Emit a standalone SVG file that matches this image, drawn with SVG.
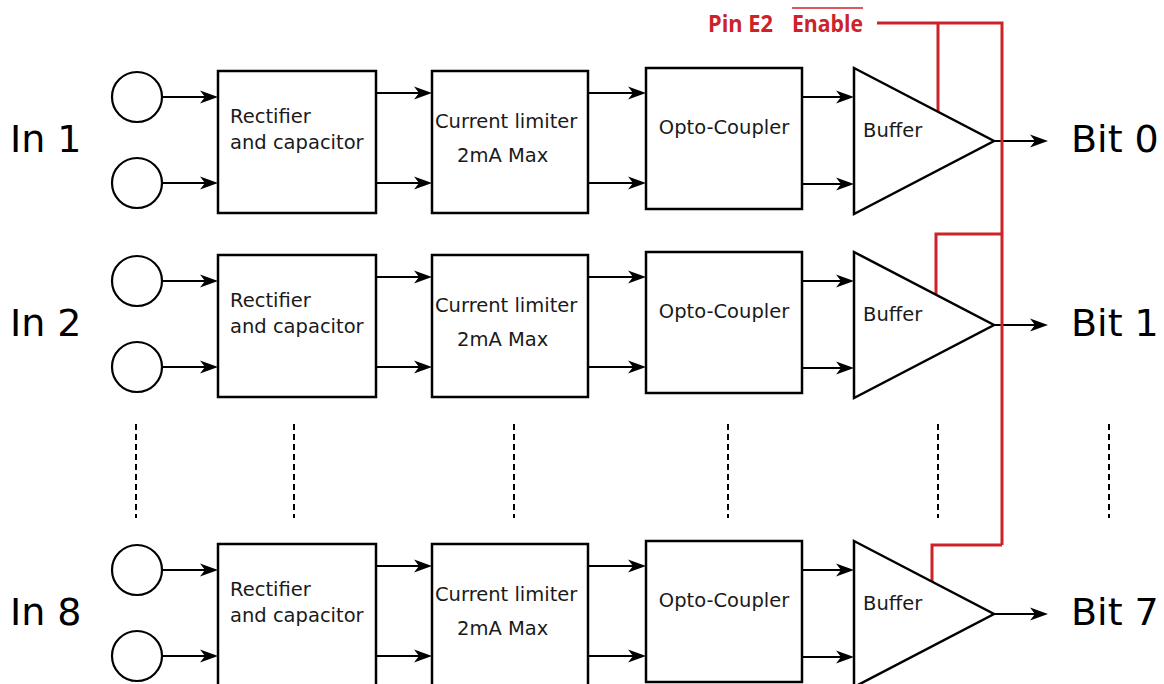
<svg xmlns="http://www.w3.org/2000/svg" width="1164" height="684" viewBox="0 0 1164 684">
<style>
.bx{fill:#fff;stroke:#000;stroke-width:2.5}
.ci{fill:#fff;stroke:#000;stroke-width:2.2}
.ln{fill:none;stroke:#000;stroke-width:2.2;marker-end:url(#ah)}
.t{font-family:"DejaVu Sans",sans-serif;font-size:19.5px;fill:#1a1a1a}
.big{font-family:"DejaVu Sans",sans-serif;font-size:38px;fill:#000}
.red{fill:none;stroke:#cc2229;stroke-width:3}
.rt{font-family:"Open Sans","Liberation Sans",sans-serif;font-weight:bold;font-size:23px;fill:#cc2229}
.dash{stroke:#000;stroke-width:2;stroke-dasharray:6 4}
</style>
<defs>
<marker id="ah" markerUnits="userSpaceOnUse" viewBox="0 0 18 14" markerWidth="18" markerHeight="14" refX="14" refY="7" orient="auto">
<path d="M0,0.5 L18,7 L0,13.5 L5,7 Z" fill="#000"/>
</marker>
</defs>
<rect width="1164" height="684" fill="#fff"/>

<g id="connectors">
<!-- row 1 -->
<line class="ln" x1="162" y1="97" x2="214" y2="97"/>
<line class="ln" x1="162" y1="183" x2="214" y2="183"/>
<line class="ln" x1="376" y1="93" x2="428" y2="93"/>
<line class="ln" x1="376" y1="183" x2="428" y2="183"/>
<line class="ln" x1="588" y1="93" x2="642" y2="93"/>
<line class="ln" x1="588" y1="183" x2="642" y2="183"/>
<line class="ln" x1="802" y1="97" x2="850" y2="97"/>
<line class="ln" x1="802" y1="184" x2="850" y2="184"/>
<line class="ln" x1="994" y1="141" x2="1044" y2="141"/>
<!-- row 2 -->
<line class="ln" x1="162" y1="281" x2="214" y2="281"/>
<line class="ln" x1="162" y1="367" x2="214" y2="367"/>
<line class="ln" x1="376" y1="277" x2="428" y2="277"/>
<line class="ln" x1="376" y1="367" x2="428" y2="367"/>
<line class="ln" x1="588" y1="277" x2="642" y2="277"/>
<line class="ln" x1="588" y1="367" x2="642" y2="367"/>
<line class="ln" x1="802" y1="281" x2="850" y2="281"/>
<line class="ln" x1="802" y1="368" x2="850" y2="368"/>
<line class="ln" x1="994" y1="325" x2="1044" y2="325"/>
<!-- row 8 -->
<line class="ln" x1="162" y1="570" x2="214" y2="570"/>
<line class="ln" x1="162" y1="656" x2="214" y2="656"/>
<line class="ln" x1="376" y1="566" x2="428" y2="566"/>
<line class="ln" x1="376" y1="656" x2="428" y2="656"/>
<line class="ln" x1="588" y1="566" x2="642" y2="566"/>
<line class="ln" x1="588" y1="656" x2="642" y2="656"/>
<line class="ln" x1="802" y1="570" x2="850" y2="570"/>
<line class="ln" x1="802" y1="657" x2="850" y2="657"/>
<line class="ln" x1="994" y1="614" x2="1044" y2="614"/>
<!-- enable wiring -->
<path class="red" d="M877,23 H1002 V545"/>
<path class="red" d="M938,23 V112"/>
<path class="red" d="M1002,234 H936 V295"/>
<path class="red" d="M1002,545 H932 V582"/>
<!-- dashed continuation -->
<line class="dash" x1="136" y1="424" x2="136" y2="518"/>
<line class="dash" x1="294" y1="424" x2="294" y2="518"/>
<line class="dash" x1="514" y1="424" x2="514" y2="518"/>
<line class="dash" x1="728" y1="424" x2="728" y2="518"/>
<line class="dash" x1="938" y1="424" x2="938" y2="518"/>
<line class="dash" x1="1109" y1="424" x2="1109" y2="518"/>
</g>

<g id="label-in1"><text class="big" x="10" y="152">In 1</text></g>
<g id="label-in2"><text class="big" x="10" y="336">In 2</text></g>
<g id="label-in8"><text class="big" x="10" y="625">In 8</text></g>

<g id="in1-a"><circle class="ci" cx="137" cy="97" r="25"/></g>
<g id="in1-b"><circle class="ci" cx="137" cy="183" r="25"/></g>
<g id="in2-a"><circle class="ci" cx="137" cy="281" r="25"/></g>
<g id="in2-b"><circle class="ci" cx="137" cy="367" r="25"/></g>
<g id="in8-a"><circle class="ci" cx="137" cy="570" r="25"/></g>
<g id="in8-b"><circle class="ci" cx="137" cy="656" r="25"/></g>

<g id="rect1"><rect class="bx" x="218" y="71" width="158" height="142"/><text class="t" x="230" y="123">Rectifier</text><text class="t" x="230" y="149">and capacitor</text></g>
<g id="rect2"><rect class="bx" x="218" y="255" width="158" height="142"/><text class="t" x="230" y="307">Rectifier</text><text class="t" x="230" y="333">and capacitor</text></g>
<g id="rect8"><rect class="bx" x="218" y="544" width="158" height="142"/><text class="t" x="230" y="596">Rectifier</text><text class="t" x="230" y="622">and capacitor</text></g>

<g id="limit1"><rect class="bx" x="432" y="71" width="156" height="142"/><text class="t" x="435" y="128">Current limiter</text><text class="t" x="457" y="162">2mA Max</text></g>
<g id="limit2"><rect class="bx" x="432" y="255" width="156" height="142"/><text class="t" x="435" y="312">Current limiter</text><text class="t" x="457" y="346">2mA Max</text></g>
<g id="limit8"><rect class="bx" x="432" y="544" width="156" height="142"/><text class="t" x="435" y="601">Current limiter</text><text class="t" x="457" y="635">2mA Max</text></g>

<g id="opto1"><rect class="bx" x="646" y="68" width="156" height="141"/><text class="t" x="724" y="134" text-anchor="middle">Opto-Coupler</text></g>
<g id="opto2"><rect class="bx" x="646" y="252" width="156" height="141"/><text class="t" x="724" y="318" text-anchor="middle">Opto-Coupler</text></g>
<g id="opto8"><rect class="bx" x="646" y="541" width="156" height="141"/><text class="t" x="724" y="607" text-anchor="middle">Opto-Coupler</text></g>

<g id="buf1"><polygon class="bx" points="854,68 994,141 854,214"/><text class="t" x="863" y="137">Buffer</text></g>
<g id="buf2"><polygon class="bx" points="854,252 994,325 854,398"/><text class="t" x="863" y="321">Buffer</text></g>
<g id="buf8"><polygon class="bx" points="854,541 994,614 854,687"/><text class="t" x="863" y="610">Buffer</text></g>

<g id="bit0"><text class="big" x="1071" y="152">Bit 0</text></g>
<g id="bit1"><text class="big" x="1071" y="336">Bit 1</text></g>
<g id="bit7"><text class="big" x="1071" y="625">Bit 7</text></g>

<g id="enable-label">
<text class="rt" x="708" y="32" textLength="65" lengthAdjust="spacingAndGlyphs">Pin E2</text>
<text class="rt" x="792" y="32" textLength="71" lengthAdjust="spacingAndGlyphs">Enable</text>
<line x1="792" y1="8" x2="863" y2="8" stroke="#cc2229" stroke-width="1.5"/>
</g>
</svg>
